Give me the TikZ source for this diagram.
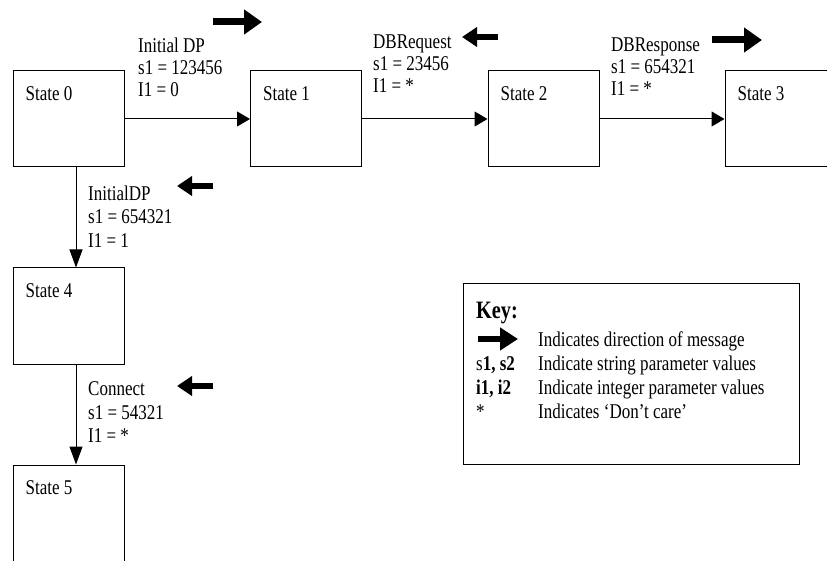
\documentclass[tikz,border=0pt]{standalone}
\usepackage{fontspec}
\setmainfont{Liberation Serif}[FakeStretch=0.81]
\usetikzlibrary{arrows.meta, positioning}

\tikzset{
  state/.style={draw, line width=1pt, minimum width=111pt, minimum height=96pt, inner sep=0pt},
  stname/.style={anchor=base west, inner sep=0pt, xshift=13pt, yshift=-30pt},
  trans/.style={line width=1pt, -{Triangle[length=13pt,width=15pt]}},
  vtrans/.style={line width=1pt, -{Triangle[length=18pt,width=13pt]}},
  param/.style={anchor=north west, inner sep=0pt, align=left, font=\fontsize{21}{22}\selectfont},
  vparam/.style={param, font=\fontsize{21}{23.5}\selectfont},
  msg/.style={line width=7pt, -{Triangle[length=18pt,width=24pt]}},
  smallmsg/.style={line width=6.5pt, -{Triangle[length=15pt,width=19pt]}},
  keytxt/.style={anchor=base west, inner sep=0pt},
}

\begin{document}
\begin{tikzpicture}[x=1pt, y=-1pt, font=\fontsize{21}{22}\selectfont]
  \useasboundingbox (0,0) rectangle (827,561);
  \clip (0,0) rectangle (827,561);

  % states
  \node[state, label={[stname]north west:State 0}] (s0) at (68.5,119) {};
  \node[state, label={[stname]north west:State 1}] (s1) at (306,119) {};
  \node[state, label={[stname]north west:State 2}] (s2) at (543.5,119) {};
  \node[state, label={[stname]north west:State 3}] (s3) at (780.5,119) {};
  \node[state, label={[stname]north west:State 4}] (s4) at (68.5,316) {};
  \node[state, label={[stname]north west:State 5}] (s5) at (68.5,513) {};

  % transitions
  \draw[trans] (s0) -- (s1);
  \draw[trans] (s1) -- (s2);
  \draw[trans] (s2) -- (s3);
  \draw[vtrans] ([xshift=7.5pt]s0.south) -- ([xshift=7.5pt]s4.north);
  \draw[vtrans] ([xshift=7.5pt]s4.south) -- ([xshift=7.5pt]s5.north);

  % message parameters
  \node[param] (p01) at (138,37.7) {Initial DP\\s1 = 123456\\I1 = 0};
  \node[param] (p12) at (373,34.7) {DBRequest\\s1 = 23456\\I1 = *};
  \node[param] (p23) at (611,37.7) {DBResponse\\s1 = 654321\\I1 = *};
  \node[vparam] (p04) at (88,185.7) {InitialDP\\s1 = 654321\\I1 = 1};
  \node[vparam] (p45) at (88,381.7) {Connect\\s1 = 54321\\I1 = *};

  % message directions
  \coordinate (d01a) at (213,22);  \coordinate (d01b) at (262,22);
  \coordinate (d12a) at (498,37);  \coordinate (d12b) at (462,37);
  \coordinate (d23a) at (712,40);  \coordinate (d23b) at (762,40);
  \coordinate (d04a) at (213,186); \coordinate (d04b) at (177,186);
  \coordinate (d45a) at (213,386); \coordinate (d45b) at (177,386);
  \draw[msg] (d01a) -- (d01b);
  \draw[smallmsg] (d12a) -- (d12b);
  \draw[msg] (d23a) -- (d23b);
  \draw[smallmsg] (d04a) -- (d04b);
  \draw[smallmsg] (d45a) -- (d45b);

  % key
  \node[draw, line width=1pt, minimum width=336pt, minimum height=180pt] (key) at (631,374) {};
  \node[keytxt, font=\bfseries\fontsize{25}{26}\selectfont] (keyt) at (476,318) {Key:};
  \coordinate (ka) at (478,339); \coordinate (kb) at (518,339);
  \draw[msg, line width=6pt, -{Triangle[length=18pt,width=22pt]}] (ka) -- (kb);
  \node[keytxt] (k1) at (538,346) {Indicates direction of message};
  \node[keytxt] (c2) at (476,370) {s\textbf{1, s2}};
  \node[keytxt] (k2) at (538,370) {Indicate string parameter values};
  \node[keytxt] (c3) at (476,394) {\textbf{i1, i2}};
  \node[keytxt] (k3) at (538,394) {Indicate integer parameter values};
  \node[keytxt] (c4) at (476,418) {*};
  \node[keytxt] (k4) at (538,418) {Indicates `Don't care'};
\end{tikzpicture}
\end{document}
